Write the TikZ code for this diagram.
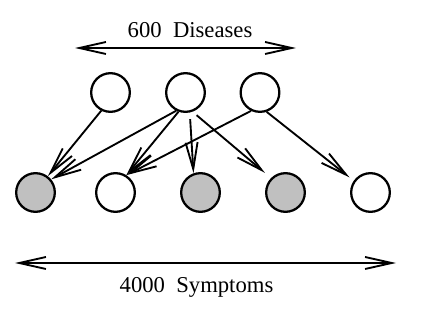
\documentclass[tikz,border=0pt]{standalone}
\usepackage{fontspec}
\setmainfont{Liberation Serif}
\usetikzlibrary{arrows.meta}
\definecolor{shade}{RGB}{192,192,192}
\begin{document}
\begin{tikzpicture}[x=0.75pt,y=-0.75pt,
  unit/.style={circle,draw,line width=1.7pt,minimum size=29pt,inner sep=0pt},
  obs/.style={unit,fill=shade},
  hid/.style={unit,fill=white},
  link/.style={line width=1.4pt,-{Straight Barb[length=20pt,width=9pt,line width=1.4pt]}},
  span/.style={line width=1.4pt,{Straight Barb[length=20pt,width=9pt,line width=1.4pt]}-{Straight Barb[length=20pt,width=9pt,line width=1.4pt]}},
  lbl/.style={font=\fontsize{17pt}{20pt}\selectfont,inner sep=0pt,anchor=base}]
\useasboundingbox (0,0) rectangle (426,313);
% top row
\node[hid] (t1) at (110.5,92.5) {};
\node[hid] (t2) at (185.5,92.5) {};
\node[hid] (t3) at (260,92.5) {};
% bottom row
\node[obs] (b1) at (35.5,192.5) {};
\node[hid] (b2) at (115.5,192.5) {};
\node[obs] (b3) at (200.5,192.5) {};
\node[obs] (b4) at (285.5,192.5) {};
\node[hid] (b5) at (370.5,192.5) {};
% edges
\draw[link] (t1.243) -- (b1.53);
\draw[link] (t2.243) -- (b1.40);
\draw[link] (t2.250) -- (b2.58);
\draw[link,shorten <=5pt] (t2.282) -- (b3.110);
\draw[link,shorten <=4pt,shorten >=6pt] (t2.290) -- (b4.135);
\draw[link] (t3.244) -- (b2.58);
\draw[link,shorten >=4pt] (t3.289) -- (b5.145);
% spans
\coordinate (dl) at (75,48);
\coordinate (dr) at (296,48);
\coordinate (sl) at (15,263);
\coordinate (sr) at (396,263);
\draw[span] (dl) -- (dr);
\draw[span] (sl) -- (sr);
\node[lbl] (dis) at (190,37.7) {600\ \ Diseases};
\node[lbl] (sym) at (196.5,293) {4000\ \ Symptoms};
\end{tikzpicture}
\end{document}
